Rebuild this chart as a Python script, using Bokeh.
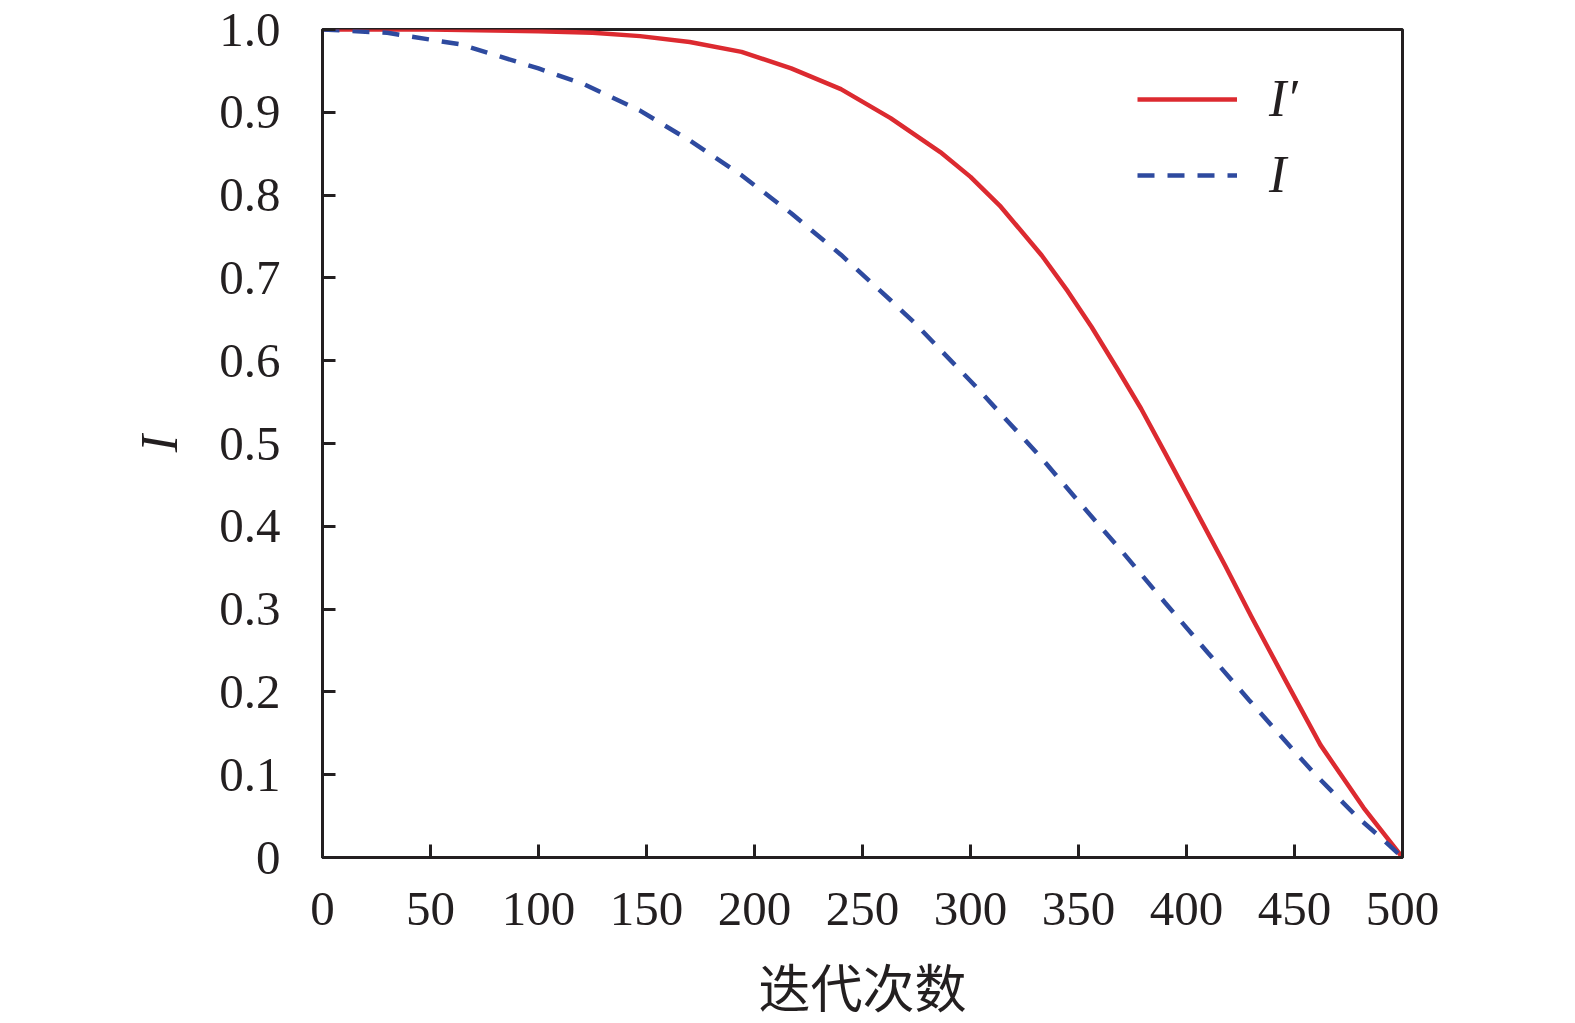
from bokeh.plotting import figure
from bokeh.models import FixedTicker, Legend, LegendItem, Range1d
from bokeh.embed import file_html
from bokeh.resources import INLINE

# I' (red, solid): iteration -> value
iter_I_prime = [0, 50, 100, 125, 147, 170, 194, 217, 240, 263, 286, 300, 314,
                333, 345, 356, 368, 379, 390, 407, 418, 430, 446, 462, 482, 500]
I_prime = [1.000, 1.000, 0.998, 0.996, 0.992, 0.985, 0.973, 0.953, 0.928, 0.893,
           0.852, 0.822, 0.786, 0.727, 0.684, 0.641, 0.590, 0.542, 0.489, 0.406,
           0.352, 0.291, 0.213, 0.136, 0.060, 0.000]

# I (blue, dashed)
iter_I = [0, 30, 64, 100, 121, 147, 170, 194, 217, 240, 263, 274, 288, 302, 314,
          325, 333, 350, 371, 390, 410, 429, 448, 459, 479, 490, 500]
I_vals = [1.000, 0.996, 0.982, 0.953, 0.934, 0.902, 0.866, 0.824, 0.778, 0.728,
          0.673, 0.646, 0.608, 0.570, 0.536, 0.505, 0.482, 0.430, 0.367, 0.308,
          0.247, 0.190, 0.134, 0.102, 0.049, 0.024, 0.000]

x_ticks = [0, 50, 100, 150, 200, 250, 300, 350, 400, 450, 500]
y_ticks = [0, 0.1, 0.2, 0.3, 0.4, 0.5, 0.6, 0.7, 0.8, 0.9, 1.0]
y_tick_labels = ["0", "0.1", "0.2", "0.3", "0.4", "0.5", "0.6", "0.7", "0.8", "0.9", "1.0"]

label_I_prime = "I\u2032"
label_I = "I"
x_title = "迭代次数"
y_title = "I"

INK = "#231f20"
RED = "#dc2a30"
BLUE = "#2e4a9f"
SERIF = "Liberation Serif"

p = figure(frame_width=1080, frame_height=828, output_backend="svg",
           toolbar_location=None, x_range=Range1d(0, 500), y_range=Range1d(0, 1))
p.min_border_left = 322
p.min_border_top = 29
p.min_border_right = 140
p.min_border_bottom = 100
p.background_fill_color = "white"
p.border_fill_color = "white"
p.outline_line_color = INK
p.outline_line_width = 3
p.xgrid.visible = False
p.ygrid.visible = False

r1 = p.line(iter_I_prime, I_prime, line_color=RED, line_width=4.5, line_join="round")
r2 = p.line(iter_I, I_vals, line_color=BLUE, line_width=4.5, line_dash="17 13")

for ax in (p.xaxis[0], p.yaxis[0]):
    ax.axis_line_color = INK
    ax.axis_line_width = 3
    ax.major_tick_in = 13
    ax.major_tick_out = 0
    ax.major_tick_line_width = 3
    ax.major_tick_line_color = INK
    ax.minor_tick_line_color = None
    ax.major_label_text_font = SERIF
    ax.major_label_text_font_size = "49px"
    ax.major_label_text_color = INK

p.xaxis[0].ticker = FixedTicker(ticks=x_ticks)
p.yaxis[0].ticker = FixedTicker(ticks=y_ticks)
p.yaxis[0].major_label_overrides = {t: s for t, s in zip(y_ticks, y_tick_labels)}
p.xaxis[0].major_label_standoff = 35
p.yaxis[0].major_label_standoff = 42

p.xaxis[0].axis_label = x_title
p.xaxis[0].axis_label_text_font = "Noto Sans CJK SC"
p.xaxis[0].axis_label_text_font_style = "normal"
p.xaxis[0].axis_label_text_font_size = "52px"
p.xaxis[0].axis_label_text_color = INK
p.xaxis[0].axis_label_standoff = 20

p.yaxis[0].axis_label = y_title
p.yaxis[0].axis_label_text_font = SERIF
p.yaxis[0].axis_label_text_font_style = "italic"
p.yaxis[0].axis_label_text_font_size = "52px"
p.yaxis[0].axis_label_text_color = INK
p.yaxis[0].axis_label_standoff = 28

legend = Legend(items=[LegendItem(label=label_I_prime, renderers=[r1]),
                       LegendItem(label=label_I, renderers=[r2])],
                location=(815, 653))
legend.border_line_alpha = 0
legend.background_fill_alpha = 0
legend.glyph_width = 100
legend.glyph_height = 58
legend.label_height = 58
legend.spacing = 17
legend.padding = 0
legend.margin = 0
legend.label_standoff = 32
legend.label_text_font = SERIF
legend.label_text_font_style = "italic"
legend.label_text_font_size = "52px"
legend.label_text_color = INK
p.add_layout(legend, "center")

open("out.html", "w").write(file_html(p, INLINE))
